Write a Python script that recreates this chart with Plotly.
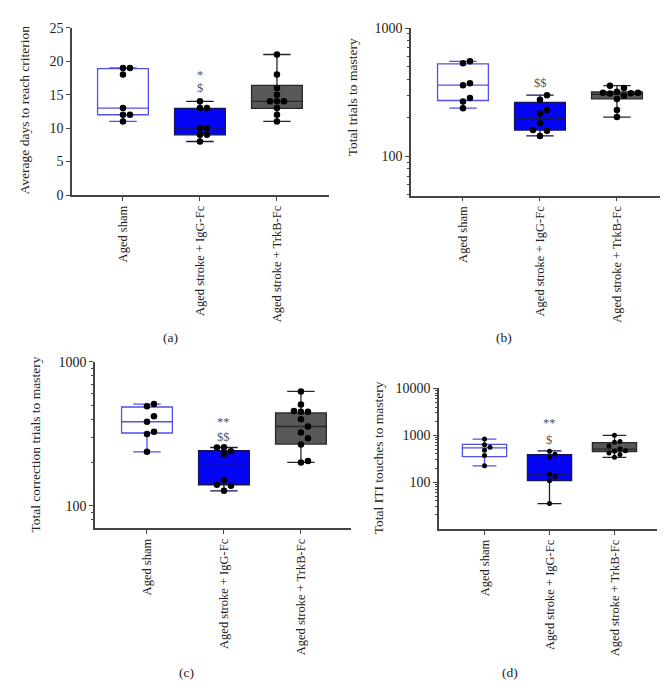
import numpy as np
import plotly.graph_objects as go

W, H = 668, 698
FONT = "Liberation Serif"

categories = ["Aged sham", "Aged stroke + IgG-Fc", "Aged stroke + TrkB-Fc"]

# ---- panel (a): Average days to reach criterion ----
a_sham = [19, 19, 18, 13, 12, 12, 11]
a_igg = [14, 13, 13, 10, 10, 9, 9, 8]
a_trkb = [21, 18, 16, 15, 14, 14, 14, 13, 12, 11]
a_q1 = [12, 9, 12.95]
a_med = [13, 10, 14]
a_q3 = [18.9, 12.95, 16.4]
a_lo = [11, 8, 11]
a_hi = [19, 14, 21]

# ---- panel (b): Total trials to mastery ----
b_sham = [550, 531, 370, 358, 284, 267, 237]
b_igg = [299, 275, 229, 215, 181, 160, 158, 144]
b_trkb = [355, 340, 318, 312, 312, 310, 308, 296, 279, 229, 202]
b_q1 = [272, 160, 280]
b_med = [358, 196, 303]
b_q3 = [525, 263, 317]
b_lo = [237, 144, 202]
b_hi = [550, 299, 355]

# ---- panel (c): Total correction trials to mastery ----
c_sham = [508, 490, 419, 383, 326, 315, 237]
c_igg = [255, 254, 239, 229, 151, 140, 138, 127]
c_trkb = [622, 505, 455, 450, 450, 398, 355, 323, 294, 266, 205, 200]
c_q1 = [320, 140, 268]
c_med = [383, 191, 355]
c_q3 = [485, 241, 441]
c_lo = [237, 127, 200]
c_hi = [508, 254, 622]

# ---- panel (d): Total ITI touches to mastery ----
d_sham = [832, 632, 557, 482, 373, 223]
d_igg = [459, 397, 339, 147, 131, 107, 35]
d_trkb = [1000, 743, 708, 590, 520, 470, 460, 420, 390, 340]
d_q1 = [350, 108, 452]
d_med = [539, 149, 506]
d_q3 = [643, 385, 697]
d_lo = [223, 35, 339]
d_hi = [832, 467, 1000]

box_line = ["rgb(80,80,235)", "rgb(20,20,90)", "rgb(40,40,40)"]
box_fill = ["rgba(255,255,255,1)", "rgb(5,5,245)", "rgb(88,88,88)"]
AX = "#444444"


def xp(px):
    return px / W


def yp(px):
    return 1 - px / H


panels = [
    dict(name="a", groups=[a_sham, a_igg, a_trkb], q1=a_q1, med=a_med, q3=a_q3, lo=a_lo, hi=a_hi,
         xpx=(64, 321), ypx=(13, 184), log=False, yr=(0, 25), xr=(-0.662, 2.676),
         title="Average days to reach criterion", tpos=(16.5, 97), bw=0.66, ms=6.5,
         label="(a)", lpos=(162, 330), ann=[("*", 192, 61), ("$", 192, 75)], majors=None),
    dict(name="b", groups=[b_sham, b_igg, b_trkb], q1=b_q1, med=b_med, q3=b_q3, lo=b_lo, hi=b_hi,
         xpx=(403, 660), ypx=(13.3, 184.5), log=True, yr=(1.693, 3), xr=(-0.675, 2.663),
         title="Total trials to mastery", tpos=(344, 84), bw=0.66, ms=6.5,
         label="(b)", lpos=(496, 330), ann=[("$$", 532, 70)], majors=[100, 1000]),
    dict(name="c", groups=[c_sham, c_igg, c_trkb], q1=c_q1, med=c_med, q3=c_q3, lo=c_lo, hi=c_hi,
         xpx=(87, 343), ypx=(354.3, 524.3), log=True, yr=(1.846, 3), xr=(-0.675, 2.65),
         title="Total correction trials to mastery", tpos=(28, 439), bw=0.66, ms=6.5,
         label="(c)", lpos=(179, 672), ann=[("**", 215, 416), ("$$", 215, 431)], majors=[100, 1000]),
    dict(name="d", groups=[d_sham, d_igg, d_trkb], q1=d_q1, med=d_med, q3=d_q3, lo=d_lo, hi=d_hi,
         xpx=(431, 649), ypx=(381.7, 525.3), log=True, yr=(1, 4), xr=(-0.70, 2.654),
         title="Total ITI touches to mastery", tpos=(370, 453), bw=0.68, ms=5,
         label="(d)", lpos=(502, 672), ann=[("**", 541, 417), ("$", 541, 434)],
         majors=[100, 1000, 10000]),
]

fig = go.Figure()
annotations = []
layout = {}


def minor_vals(lo_exp, hi_exp):
    out = []
    for e in range(int(np.floor(lo_exp)), int(np.ceil(hi_exp)) + 1):
        for m in range(2, 10):
            v = m * 10 ** e
            if lo_exp <= np.log10(v) <= hi_exp:
                out.append(v)
    return out


for i, p in enumerate(panels):
    sfx = "" if i == 0 else str(i + 1)
    xa, ya = "x" + sfx, "y" + sfx
    x0, x1 = p["xpx"]
    y0, y1 = p["ypx"]
    kx = (x1 - x0) / (p["xr"][1] - p["xr"][0])
    hpx = y1 - y0

    def ypix(v, p=p, hpx=hpx):
        t = np.log10(v) if p["log"] else v
        return (t - p["yr"][0]) / (p["yr"][1] - p["yr"][0]) * hpx

    for g in range(3):
        fig.add_trace(go.Box(
            x=[g], q1=[p["q1"][g]], median=[p["med"][g]], q3=[p["q3"][g]],
            lowerfence=[p["lo"][g]], upperfence=[p["hi"][g]],
            width=p["bw"], whiskerwidth=0.54, boxpoints=False,
            line=dict(color=box_line[g], width=1.3), fillcolor=box_fill[g],
            xaxis=xa, yaxis=ya, showlegend=False, hoverinfo="skip"))
        # simple beeswarm in pixel space
        vals = sorted(p["groups"][g])
        D = p["ms"] + 0.5
        placed = []
        xs = []
        for v in vals:
            yy = ypix(v)
            for kk in [0, 1, -1, 2, -2, 3, -3]:
                off = kk * D
                if all((off - ox) ** 2 + (yy - oy) ** 2 >= (D * 0.95) ** 2 for ox, oy in placed):
                    break
            placed.append((off, yy))
            xs.append(g + off / kx)
        fig.add_trace(go.Scatter(
            x=xs, y=vals, mode="markers",
            marker=dict(color="black", size=p["ms"]),
            xaxis=xa, yaxis=ya, showlegend=False, hoverinfo="skip"))

    xkey = "xaxis" + sfx
    ykey = "yaxis" + sfx
    layout[xkey] = dict(
        domain=[xp(x0), xp(x1)], anchor=ya, range=list(p["xr"]),
        tickmode="array", tickvals=[0, 1, 2], ticktext=categories, tickangle=-90,
        showline=True, linecolor=AX, linewidth=1.5, ticks="outside", ticklen=4,
        tickcolor=AX, showgrid=False, zeroline=False,
        tickfont=dict(family=FONT, size=12.5, color="#222"))
    yax = dict(
        domain=[yp(y1), yp(y0)], anchor=xa, range=list(p["yr"]),
        showline=True, linecolor=AX, linewidth=1.5, ticks="outside", ticklen=4,
        tickcolor=AX, showgrid=False, zeroline=False,
        tickfont=dict(family=FONT, size=14, color="#222"))
    if p["log"]:
        majors = p["majors"]
        yax.update(type="log", tickmode="array", tickvals=majors,
                   ticktext=[str(m) for m in majors],
                   minor=dict(tickmode="array", tickvals=minor_vals(*p["yr"]),
                              ticks="outside", ticklen=2.5, tickcolor=AX, showgrid=False))
    else:
        yax.update(tickmode="array", tickvals=[0, 5, 10, 15, 20, 25])
    layout[ykey] = yax

    annotations.append(dict(
        text=p["title"], textangle=-90, x=xp(p["tpos"][0]), y=yp(p["tpos"][1]),
        xref="paper", yref="paper", showarrow=False, xanchor="center", yanchor="middle",
        font=dict(family=FONT, size=13.5, color="#222")))
    annotations.append(dict(
        text=p["label"], x=xp(p["lpos"][0]), y=yp(p["lpos"][1]),
        xref="paper", yref="paper", showarrow=False, xanchor="center", yanchor="middle",
        font=dict(family=FONT, size=13.5, color="#222")))
    for t, ax_, ay_ in p["ann"]:
        annotations.append(dict(
            text=t, x=xp(ax_), y=yp(ay_), xref="paper", yref="paper", showarrow=False,
            xanchor="center", yanchor="middle",
            font=dict(family=FONT, size=12.5, color="#555")))

fig.update_layout(
    width=W, height=H, autosize=False,
    margin=dict(l=0, r=0, t=0, b=0),
    paper_bgcolor="white", plot_bgcolor="white",
    annotations=annotations, **layout)

fig.write_html("out.html")
